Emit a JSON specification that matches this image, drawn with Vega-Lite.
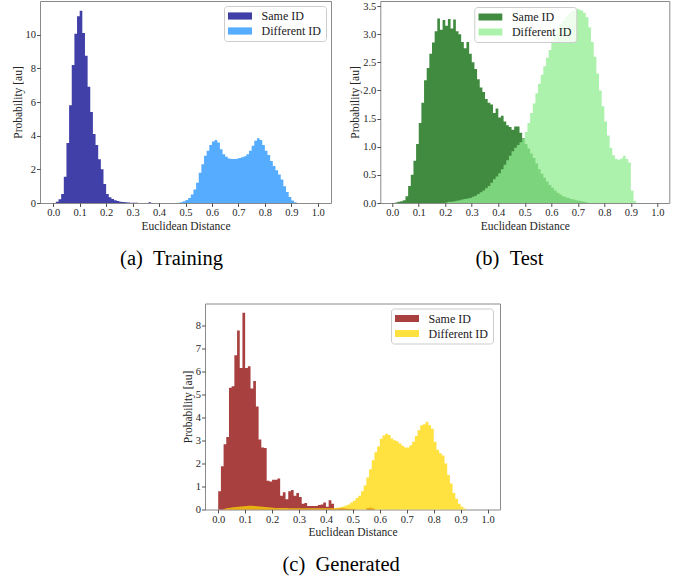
{
"$schema": "https://vega.github.io/schema/vega-lite/v6.json",
"background": "white",
"padding": {"left": 11, "top": 0, "right": 4, "bottom": 0},
"config": {
  "font": "Liberation Serif",
  "view": {"stroke": "#8a8a8a", "strokeWidth": 1},
  "axis": {"domain": false, "grid": false, "labelFont": "Liberation Serif", "labelFontSize": 10.5, "labelColor": "#262626", "tickColor": "#262626", "tickSize": 3.5, "tickWidth": 0.8, "titleFont": "Liberation Serif", "titleFontSize": 11.5, "titleFontWeight": "normal", "titleColor": "#262626", "labelPadding": 1, "titlePadding": 2, "labelFlush": false, "labelOverlap": false},
  "legend": {"title": null, "labelFont": "Liberation Serif", "labelFontSize": 12, "labelColor": "#1a1a1a", "symbolType": "M-1,-0.3H1V0.3H-1Z", "symbolSize": 576, "symbolStrokeWidth": 0, "symbolOpacity": 0.75, "labelOffset": 9.6, "padding": 4, "fillColor": "rgba(255,255,255,0.8)", "strokeColor": "#cccccc", "cornerRadius": 3, "clipHeight": 12, "rowPadding": 3},
  "title": {"font": "Liberation Serif", "fontSize": 20.5, "fontWeight": "normal", "color": "#000000", "anchor": "middle", "frame": "bounds", "orient": "bottom", "offset": 17},
  "area": {"opacity": 0.75, "interpolate": "step-after"}
},
"datasets": {
"aS": [{"x":0.01,"y":0.08},{"x":0.02,"y":0.22},{"x":0.03,"y":0.53},{"x":0.04,"y":1.56},{"x":0.05,"y":3.56},{"x":0.06,"y":5.8},{"x":0.07,"y":8.2},{"x":0.08,"y":10.05},{"x":0.09,"y":11.1},{"x":0.10,"y":11.42},{"x":0.11,"y":10.1},{"x":0.12,"y":8.75},{"x":0.13,"y":6.9},{"x":0.14,"y":5.4},{"x":0.15,"y":4.1},{"x":0.16,"y":3.45},{"x":0.17,"y":2.6},{"x":0.18,"y":2.0},{"x":0.19,"y":1.13},{"x":0.20,"y":0.53},{"x":0.21,"y":0.34},{"x":0.22,"y":0.24},{"x":0.23,"y":0.16},{"x":0.24,"y":0.12},{"x":0.25,"y":0.08},{"x":0.26,"y":0.06},{"x":0.27,"y":0.04},{"x":0.28,"y":0.03},{"x":0.29,"y":0.02},{"x":0.30,"y":0.02},{"x":0.31,"y":0.01},{"x":0.32,"y":0},{"x":0.36,"y":0.05},{"x":0.37,"y":0}],
"aD": [{"x":0.47,"y":0.02},{"x":0.48,"y":0.05},{"x":0.49,"y":0.1},{"x":0.50,"y":0.18},{"x":0.51,"y":0.3},{"x":0.52,"y":0.5},{"x":0.53,"y":0.8},{"x":0.54,"y":1.2},{"x":0.55,"y":1.8},{"x":0.56,"y":2.3},{"x":0.57,"y":2.8},{"x":0.58,"y":3.1},{"x":0.59,"y":3.45},{"x":0.60,"y":3.65},{"x":0.61,"y":3.75},{"x":0.62,"y":3.6},{"x":0.63,"y":3.2},{"x":0.64,"y":2.9},{"x":0.65,"y":2.75},{"x":0.66,"y":2.65},{"x":0.67,"y":2.62},{"x":0.68,"y":2.62},{"x":0.69,"y":2.63},{"x":0.70,"y":2.68},{"x":0.71,"y":2.72},{"x":0.72,"y":2.78},{"x":0.73,"y":2.9},{"x":0.74,"y":3.1},{"x":0.75,"y":3.4},{"x":0.76,"y":3.7},{"x":0.77,"y":3.85},{"x":0.78,"y":3.75},{"x":0.79,"y":3.45},{"x":0.80,"y":3.1},{"x":0.81,"y":2.85},{"x":0.82,"y":2.5},{"x":0.83,"y":2.2},{"x":0.84,"y":1.95},{"x":0.85,"y":1.7},{"x":0.86,"y":1.4},{"x":0.87,"y":1.0},{"x":0.88,"y":0.65},{"x":0.89,"y":0.35},{"x":0.90,"y":0.15},{"x":0.91,"y":0.05},{"x":0.92,"y":0}],
"bS": [{"x":0.01,"y":0.01},{"x":0.02,"y":0.02},{"x":0.03,"y":0.03},{"x":0.04,"y":0.05},{"x":0.05,"y":0.12},{"x":0.06,"y":0.3},{"x":0.07,"y":0.5},{"x":0.08,"y":0.75},{"x":0.09,"y":1.05},{"x":0.10,"y":1.42},{"x":0.11,"y":1.78},{"x":0.12,"y":2.18},{"x":0.13,"y":2.4},{"x":0.14,"y":2.65},{"x":0.15,"y":2.85},{"x":0.16,"y":3.05},{"x":0.17,"y":3.28},{"x":0.18,"y":3.08},{"x":0.19,"y":3.25},{"x":0.20,"y":3.15},{"x":0.21,"y":3.27},{"x":0.22,"y":3.1},{"x":0.23,"y":3.26},{"x":0.24,"y":3.05},{"x":0.25,"y":3.0},{"x":0.26,"y":2.86},{"x":0.27,"y":2.75},{"x":0.28,"y":2.86},{"x":0.29,"y":2.65},{"x":0.30,"y":2.5},{"x":0.31,"y":2.38},{"x":0.32,"y":2.2},{"x":0.33,"y":2.05},{"x":0.34,"y":1.97},{"x":0.35,"y":1.85},{"x":0.36,"y":1.78},{"x":0.37,"y":1.75},{"x":0.38,"y":1.6},{"x":0.39,"y":1.68},{"x":0.40,"y":1.52},{"x":0.41,"y":1.55},{"x":0.42,"y":1.45},{"x":0.43,"y":1.38},{"x":0.44,"y":1.35},{"x":0.45,"y":1.3},{"x":0.46,"y":1.36},{"x":0.47,"y":1.36},{"x":0.48,"y":1.25},{"x":0.49,"y":1.15},{"x":0.50,"y":1.05},{"x":0.51,"y":0.97},{"x":0.52,"y":0.88},{"x":0.53,"y":0.8},{"x":0.54,"y":0.7},{"x":0.55,"y":0.6},{"x":0.56,"y":0.52},{"x":0.57,"y":0.45},{"x":0.58,"y":0.38},{"x":0.59,"y":0.32},{"x":0.60,"y":0.27},{"x":0.61,"y":0.22},{"x":0.62,"y":0.18},{"x":0.63,"y":0.15},{"x":0.64,"y":0.12},{"x":0.65,"y":0.1},{"x":0.66,"y":0.09},{"x":0.67,"y":0.07},{"x":0.68,"y":0.06},{"x":0.69,"y":0.05},{"x":0.70,"y":0.04},{"x":0.71,"y":0.03},{"x":0.72,"y":0.02},{"x":0.73,"y":0.01},{"x":0.74,"y":0}],
"bD": [{"x":0.20,"y":0.01},{"x":0.21,"y":0.02},{"x":0.22,"y":0.02},{"x":0.23,"y":0.03},{"x":0.24,"y":0.04},{"x":0.25,"y":0.05},{"x":0.26,"y":0.06},{"x":0.27,"y":0.07},{"x":0.28,"y":0.08},{"x":0.29,"y":0.09},{"x":0.30,"y":0.11},{"x":0.31,"y":0.13},{"x":0.32,"y":0.16},{"x":0.33,"y":0.19},{"x":0.34,"y":0.22},{"x":0.35,"y":0.26},{"x":0.36,"y":0.3},{"x":0.37,"y":0.36},{"x":0.38,"y":0.42},{"x":0.39,"y":0.47},{"x":0.40,"y":0.53},{"x":0.41,"y":0.6},{"x":0.42,"y":0.68},{"x":0.43,"y":0.76},{"x":0.44,"y":0.84},{"x":0.45,"y":0.92},{"x":0.46,"y":0.98},{"x":0.47,"y":1.03},{"x":0.48,"y":1.08},{"x":0.49,"y":1.14},{"x":0.50,"y":1.26},{"x":0.51,"y":1.42},{"x":0.52,"y":1.6},{"x":0.53,"y":1.77},{"x":0.54,"y":1.95},{"x":0.55,"y":2.12},{"x":0.56,"y":2.28},{"x":0.57,"y":2.43},{"x":0.58,"y":2.58},{"x":0.59,"y":2.72},{"x":0.60,"y":2.88},{"x":0.61,"y":3.0},{"x":0.62,"y":3.1},{"x":0.63,"y":3.18},{"x":0.64,"y":3.24},{"x":0.65,"y":3.3},{"x":0.66,"y":3.35},{"x":0.67,"y":3.4},{"x":0.68,"y":3.43},{"x":0.69,"y":3.45},{"x":0.70,"y":3.44},{"x":0.71,"y":3.42},{"x":0.72,"y":3.38},{"x":0.73,"y":3.3},{"x":0.74,"y":3.12},{"x":0.75,"y":2.86},{"x":0.76,"y":2.6},{"x":0.77,"y":2.3},{"x":0.78,"y":2.0},{"x":0.79,"y":1.72},{"x":0.80,"y":1.45},{"x":0.81,"y":1.2},{"x":0.82,"y":0.98},{"x":0.83,"y":0.85},{"x":0.84,"y":0.78},{"x":0.85,"y":0.77},{"x":0.86,"y":0.79},{"x":0.87,"y":0.84},{"x":0.88,"y":0.78},{"x":0.89,"y":0.72},{"x":0.90,"y":0.22},{"x":0.91,"y":0.04},{"x":0.92,"y":0}],
"cS": [{"x":0.00,"y":0.8},{"x":0.01,"y":1.88},{"x":0.02,"y":2.84},{"x":0.03,"y":3.16},{"x":0.04,"y":5.31},{"x":0.05,"y":5.37},{"x":0.06,"y":6.72},{"x":0.07,"y":7.8},{"x":0.08,"y":6.17},{"x":0.09,"y":8.58},{"x":0.10,"y":6.17},{"x":0.11,"y":6.24},{"x":0.12,"y":5.27},{"x":0.13,"y":5.6},{"x":0.14,"y":4.49},{"x":0.15,"y":3.05},{"x":0.16,"y":2.7},{"x":0.17,"y":2.68},{"x":0.18,"y":1.25},{"x":0.19,"y":1.22},{"x":0.20,"y":1.3},{"x":0.21,"y":1.3},{"x":0.22,"y":1.35},{"x":0.23,"y":0.6},{"x":0.24,"y":0.75},{"x":0.25,"y":0.45},{"x":0.26,"y":0.8},{"x":0.27,"y":0.85},{"x":0.28,"y":0.6},{"x":0.29,"y":0.72},{"x":0.30,"y":0.55},{"x":0.31,"y":0.25},{"x":0.32,"y":0.28},{"x":0.33,"y":0.15},{"x":0.34,"y":0.15},{"x":0.35,"y":0.15},{"x":0.36,"y":0.15},{"x":0.37,"y":0.2},{"x":0.38,"y":0.22},{"x":0.39,"y":0.3},{"x":0.40,"y":0.12},{"x":0.41,"y":0.4},{"x":0.42,"y":0.25},{"x":0.43,"y":0.04},{"x":0.44,"y":0.05},{"x":0.45,"y":0.06},{"x":0.46,"y":0.07},{"x":0.47,"y":0.04},{"x":0.48,"y":0.03},{"x":0.49,"y":0.02},{"x":0.50,"y":0.02},{"x":0.51,"y":0},{"x":0.55,"y":0.06},{"x":0.56,"y":0.09},{"x":0.57,"y":0.05},{"x":0.58,"y":0}],
"cD": [{"x":0.02,"y":0.03},{"x":0.03,"y":0.06},{"x":0.04,"y":0.08},{"x":0.05,"y":0.1},{"x":0.06,"y":0.11},{"x":0.07,"y":0.12},{"x":0.08,"y":0.13},{"x":0.09,"y":0.14},{"x":0.10,"y":0.15},{"x":0.11,"y":0.16},{"x":0.12,"y":0.16},{"x":0.13,"y":0.15},{"x":0.14,"y":0.14},{"x":0.15,"y":0.13},{"x":0.16,"y":0.12},{"x":0.17,"y":0.11},{"x":0.18,"y":0.1},{"x":0.19,"y":0.09},{"x":0.20,"y":0.08},{"x":0.21,"y":0.07},{"x":0.22,"y":0.07},{"x":0.23,"y":0.06},{"x":0.24,"y":0.06},{"x":0.25,"y":0.06},{"x":0.26,"y":0.05},{"x":0.27,"y":0.05},{"x":0.28,"y":0.05},{"x":0.29,"y":0.05},{"x":0.30,"y":0.05},{"x":0.31,"y":0.05},{"x":0.32,"y":0.05},{"x":0.33,"y":0.05},{"x":0.34,"y":0.05},{"x":0.35,"y":0.05},{"x":0.36,"y":0.05},{"x":0.37,"y":0.05},{"x":0.38,"y":0.05},{"x":0.39,"y":0.05},{"x":0.40,"y":0.05},{"x":0.41,"y":0.05},{"x":0.42,"y":0.05},{"x":0.43,"y":0.06},{"x":0.44,"y":0.08},{"x":0.45,"y":0.1},{"x":0.46,"y":0.13},{"x":0.47,"y":0.17},{"x":0.48,"y":0.22},{"x":0.49,"y":0.3},{"x":0.50,"y":0.38},{"x":0.51,"y":0.5},{"x":0.52,"y":0.6},{"x":0.53,"y":0.8},{"x":0.54,"y":1.05},{"x":0.55,"y":1.4},{"x":0.56,"y":1.75},{"x":0.57,"y":2.15},{"x":0.58,"y":2.5},{"x":0.59,"y":2.75},{"x":0.60,"y":3.08},{"x":0.61,"y":3.23},{"x":0.62,"y":3.3},{"x":0.63,"y":3.25},{"x":0.64,"y":3.1},{"x":0.65,"y":3.02},{"x":0.66,"y":2.97},{"x":0.67,"y":2.88},{"x":0.68,"y":2.78},{"x":0.69,"y":2.7},{"x":0.70,"y":2.7},{"x":0.71,"y":2.8},{"x":0.72,"y":2.95},{"x":0.73,"y":3.2},{"x":0.74,"y":3.45},{"x":0.75,"y":3.67},{"x":0.76,"y":3.72},{"x":0.77,"y":3.82},{"x":0.78,"y":3.67},{"x":0.79,"y":3.52},{"x":0.80,"y":2.95},{"x":0.81,"y":2.6},{"x":0.82,"y":2.45},{"x":0.83,"y":2.35},{"x":0.84,"y":2.0},{"x":0.85,"y":1.5},{"x":0.86,"y":1.13},{"x":0.87,"y":0.72},{"x":0.88,"y":0.47},{"x":0.89,"y":0.25},{"x":0.90,"y":0.12},{"x":0.91,"y":0.04},{"x":0.92,"y":0}]
},
"vconcat": [
  {
    "hconcat": [
      {
        "width": 291, "height": 202,
        "title": {"text": "(a)\u2002Training"},
        "encoding": {
          "x": {"field": "x", "type": "quantitative", "scale": {"domain": [-0.05, 1.05], "nice": false, "zero": false}, "axis": {"values": [0,0.1,0.2,0.3,0.4,0.5,0.6,0.7,0.8,0.9,1.0], "format": ".1f", "title": "Euclidean Distance", "labelFont": "Liberation Serif", "titleFont": "Liberation Serif"}},
          "y": {"field": "y", "type": "quantitative", "stack": null, "scale": {"domain": [0, 12.0], "nice": false}, "axis": {"values": [0,2,4,6,8,10], "format": "d", "title": "Probability [au]", "labelFont": "Liberation Serif", "titleFont": "Liberation Serif"}}
        },
        "layer": [
          {"data": {"name": "aS"}, "mark": {"type": "area"}, "encoding": {"color": {"datum": "Same ID", "type": "nominal", "scale": {"domain": ["Same ID", "Different ID"], "range": ["darkblue", "dodgerblue"]}, "legend": {"orient": "none", "legendX": 184, "legendY": 5, "labelFont": "Liberation Serif"}}}},
          {"data": {"name": "aD"}, "mark": {"type": "area"}, "encoding": {"color": {"datum": "Different ID", "type": "nominal"}}}
        ]
      },
      {
        "width": 289, "height": 202,
        "title": {"text": "(b)\u2002Test"},
        "encoding": {
          "x": {"field": "x", "type": "quantitative", "scale": {"domain": [-0.045, 1.045], "nice": false, "zero": false}, "axis": {"values": [0,0.1,0.2,0.3,0.4,0.5,0.6,0.7,0.8,0.9,1.0], "format": ".1f", "title": "Euclidean Distance", "labelFont": "Liberation Serif", "titleFont": "Liberation Serif"}},
          "y": {"field": "y", "type": "quantitative", "stack": null, "scale": {"domain": [0, 3.589], "nice": false}, "axis": {"values": [0,0.5,1,1.5,2,2.5,3,3.5], "format": ".1f", "title": "Probability [au]", "labelFont": "Liberation Serif", "titleFont": "Liberation Serif"}}
        },
        "layer": [
          {"data": {"name": "bS"}, "mark": {"type": "area"}, "encoding": {"color": {"datum": "Same ID", "type": "nominal", "scale": {"domain": ["Same ID", "Different ID"], "range": ["darkgreen", "lightgreen"]}, "legend": {"orient": "none", "legendX": 94, "legendY": 6, "labelFont": "Liberation Serif"}}}},
          {"data": {"name": "bD"}, "mark": {"type": "area"}, "encoding": {"color": {"datum": "Different ID", "type": "nominal"}}}
        ]
      }
    ],
    "spacing": 49.3,
    "bounds": "flush",
    "resolve": {"scale": {"color": "independent"}, "legend": {"color": "independent"}}
  },
  {
    "hconcat": [
      {
        "width": 164.3, "height": 10,
        "view": {"stroke": "transparent"},
        "data": {"values": []},
        "mark": {"type": "rule"},
        "encoding": {}
      },
      {
        "width": 295, "height": 206,
        "title": {"text": "(c)\u2002Generated"},
        "encoding": {
          "x": {"field": "x", "type": "quantitative", "scale": {"domain": [-0.049, 1.046], "nice": false, "zero": false}, "axis": {"values": [0,0.1,0.2,0.3,0.4,0.5,0.6,0.7,0.8,0.9,1.0], "format": ".1f", "title": "Euclidean Distance", "labelFont": "Liberation Serif", "titleFont": "Liberation Serif"}},
          "y": {"field": "y", "type": "quantitative", "stack": null, "scale": {"domain": [0, 8.98], "nice": false}, "axis": {"values": [0,1,2,3,4,5,6,7,8], "format": "d", "title": "Probability [au]", "labelFont": "Liberation Serif", "titleFont": "Liberation Serif"}}
        },
        "layer": [
          {"data": {"name": "cS"}, "mark": {"type": "area"}, "encoding": {"color": {"datum": "Same ID", "type": "nominal", "scale": {"domain": ["Same ID", "Different ID"], "range": ["darkred", "gold"]}, "legend": {"orient": "none", "legendX": 186, "legendY": 5, "labelFont": "Liberation Serif"}}}},
          {"data": {"name": "cD"}, "mark": {"type": "area"}, "encoding": {"color": {"datum": "Different ID", "type": "nominal"}}}
        ]
      }
    ],
    "spacing": 0,
    "bounds": "flush",
    "resolve": {"scale": {"color": "independent"}, "legend": {"color": "independent"}}
  }
],
"spacing": 32.5,
"resolve": {"scale": {"color": "independent"}, "legend": {"color": "independent"}}
}
